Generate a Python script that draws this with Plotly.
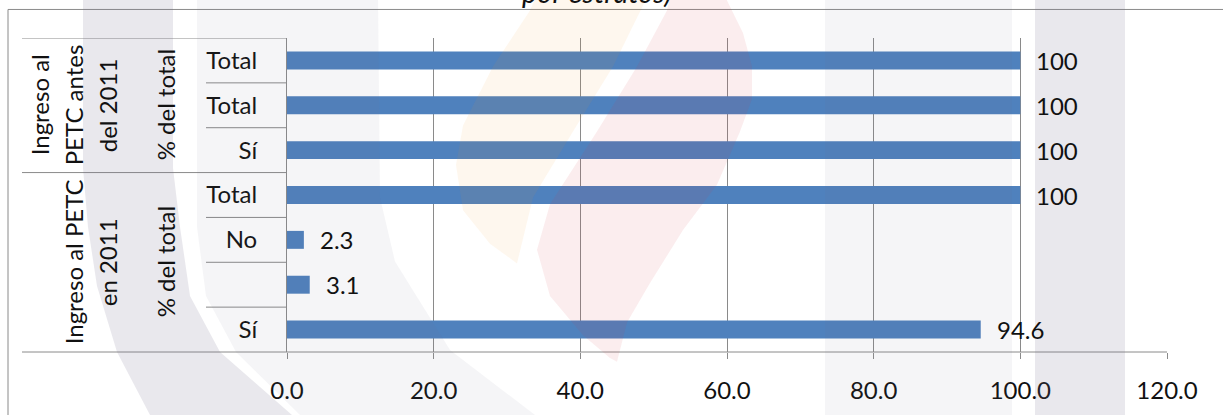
import plotly.graph_objects as go

# ---- data -------------------------------------------------------------
group_labels = ["Ingreso al<br>PETC antes<br>del 2011"] * 3 + ["Ingreso al PETC<br>en 2011"] * 4
sub_labels = ["% del total"] * 7
categories = ["Total", "Total", "Sí", "Total", "No", "", "Sí"]
values = [100, 100, 100, 100, 2.3, 3.1, 94.6]
x_ticks = [0, 20, 40, 60, 80, 100, 120]

# ---- geometry of the page ---------------------------------------------
W, H = 1223, 416
ML, MR, MT, MB = 287, 56, 38, 59
PW, PH = W - ML - MR, H - MT - MB


def px(x):
    return (x - ML) / PW


def py(y):
    return (H - MB - y) / PH


def poly(points):
    return "M " + " L ".join(f"{px(x):.5f},{py(y):.5f}" for x, y in points) + " Z"


FONT = "Lato"
FS = 24
TXT = "#111111"
GRID = "#8a8a8a"
BAR = "#4f81bd"

idx = list(range(len(values)))

fig = go.Figure()
fig.add_trace(go.Bar(
    x=values, y=idx, orientation="h",
    marker=dict(color=BAR, line=dict(width=0)),
    hoverinfo="skip",
))

shapes = []
annotations = []

# data labels
for i, v in zip(idx, values):
    annotations.append(dict(
        x=v, y=i, xref="x", yref="y", text=f"{v:g}", showarrow=False,
        xanchor="left", xshift=14, font=dict(family=FONT, size=FS, color=TXT),
    ))

# hierarchical category axis: separators and group titles
n = len(categories)
runs = []
start = 0
for i in range(1, n + 1):
    if i == n or group_labels[i] != group_labels[start]:
        runs.append((start, i - 1))
        start = i

line_style = dict(color=GRID, width=1)
LINE_STEP = 34      # spacing of the rotated text lines, px
LAST_LINE_X = 107   # centre of the last rotated line, px
for a, b in runs:
    shapes.append(dict(type="line", xref="paper", yref="y",
                       x0=px(22), x1=0, y0=a - 0.5, y1=a - 0.5, line=line_style))
    for k in range(a + 1, b + 1):
        shapes.append(dict(type="line", xref="paper", yref="y",
                           x0=px(206), x1=0, y0=k - 0.5, y1=k - 0.5, line=line_style))
    mid = (a + b) / 2
    lines = group_labels[a].split("<br>")
    for j, part in enumerate(lines):
        xc = LAST_LINE_X - (len(lines) - 1 - j) * LINE_STEP
        annotations.append(dict(
            x=px(xc), y=mid, xref="paper", yref="y", text=part,
            textangle=-90, showarrow=False, xanchor="center", yanchor="middle",
            font=dict(family=FONT, size=FS, color=TXT),
        ))
    annotations.append(dict(
        x=px(165), y=mid, xref="paper", yref="y", text=sub_labels[a],
        textangle=-90, showarrow=False, xanchor="center", yanchor="middle",
        font=dict(family=FONT, size=FS, color=TXT),
    ))
# bottom axis line running under the category labels
shapes.append(dict(type="line", xref="paper", yref="paper",
                   x0=px(22), x1=1, y0=0, y1=0, line=line_style))

# outer chart frame
shapes.append(dict(type="line", xref="paper", yref="paper",
                   x0=px(8), x1=px(W + 5), y0=py(9), y1=py(9), line=line_style))
shapes.append(dict(type="line", xref="paper", yref="paper",
                   x0=px(8), x1=px(8), y0=py(9), y1=py(H + 5), line=line_style))

# title (second line of a two-line heading)
annotations.append(dict(
    x=px(597), y=py(11), xref="paper", yref="paper", text="por estratos)",
    showarrow=False, xanchor="center", yanchor="bottom",
    font=dict(family=FONT, size=29, color=TXT, style="italic"),
))

# faint background emblem
gray_dark = "rgba(120,115,145,0.16)"
gray_light = "rgba(120,115,145,0.07)"
emblem = [
    ([(83, -5), (173, -5), (173, 170), (180, 230), (190, 300), (220, 357), (292, 421),
      (150, 421), (117, 357), (97, 290), (88, 230), (83, 170)], gray_dark),
    ([(197, -5), (378, -5), (380, 200), (395, 265), (450, 355), (535, 421), (300, 421),
      (236, 357), (206, 300), (197, 230)], gray_light),
    ([(825, -5), (1012, -5), (1012, 421), (825, 421)], gray_light),
    ([(1035, -5), (1125, -5), (1125, 421), (1035, 421)], gray_dark),
    ([(545, -25), (655, -25), (643, 5), (613, 67), (573, 133), (533, 200), (517, 267),
      (490, 247), (463, 213), (456, 167), (463, 127), (493, 67), (530, 10)],
     "rgba(245,150,40,0.08)"),
    ([(675, -25), (720, -25), (727, 0), (743, 33), (752, 67), (752, 100), (740, 133),
      (717, 187), (683, 233), (650, 287), (627, 327), (617, 367), (610, 363),
      (583, 340), (550, 300), (537, 253), (550, 207), (597, 133), (637, 67), (667, 10)],
     "rgba(215,50,70,0.09)"),
]
for pts, col in emblem:
    shapes.append(dict(type="path", xref="paper", yref="paper", path=poly(pts),
                       fillcolor=col, line=dict(width=0), layer="above"))

fig.update_layout(
    width=W, height=H,
    margin=dict(l=ML, r=MR, t=MT, b=MB, pad=0),
    paper_bgcolor="white", plot_bgcolor="white",
    showlegend=False, bargap=0.6,
    shapes=shapes, annotations=annotations,
    xaxis=dict(
        range=[0, 120], tickvals=x_ticks, tickformat=".1f",
        showgrid=True, gridcolor=GRID, gridwidth=1,
        ticks="outside", ticklen=6, tickcolor=GRID, tickwidth=1,
        showline=False, zeroline=False, ticklabelstandoff=11,
        tickfont=dict(family=FONT, size=FS, color=TXT),
    ),
    yaxis=dict(
        range=[n - 0.5, -0.5], tickvals=idx, ticktext=categories,
        showgrid=False, zeroline=False, showline=True, linecolor=GRID, linewidth=1,
        ticks="", ticklabelstandoff=24,
        tickfont=dict(family=FONT, size=FS, color=TXT),
    ),
)

fig.write_html("out.html")
